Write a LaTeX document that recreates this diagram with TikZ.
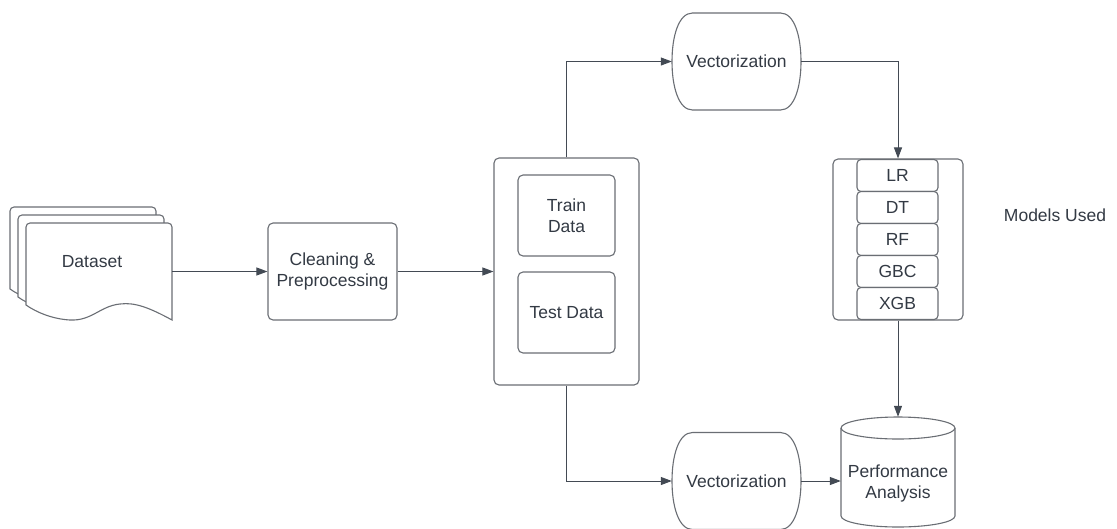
\documentclass[tikz,border=0pt]{standalone}
\usepackage{fontspec}
\setmainfont{Liberation Sans}
\usetikzlibrary{arrows.meta,calc}
\definecolor{lncol}{HTML}{434A54}
\definecolor{shpcol}{HTML}{6A6E74}
\definecolor{txtcol}{HTML}{333A44}
\tikzset{
  shp/.style={draw=shpcol, line width=1.1pt, fill=white},
  box/.style={shp, rounded corners=5pt, inner sep=0pt, align=center, text=txtcol},
  cell/.style={shp, rounded corners=4pt, minimum width=81pt, minimum height=32pt, inner sep=0pt, text=txtcol},
  lbl/.style={text=txtcol, align=center, inner sep=0pt},
  ghost/.style={inner sep=0pt, align=center, text=txtcol},
  arr/.style={draw=lncol, line width=1pt, -{Triangle[length=11pt,width=8pt]}},
  every node/.append style={font=\fontsize{17.5}{21}\selectfont},
}
\newcommand\vecpath[2]{%
  \draw[shp] (#1-44,#2-48.5) -- (#1+44,#2-48.5)
    .. controls (#1+58,#2-48.5) and (#1+64.5,#2-25) .. (#1+64.5,#2)
    .. controls (#1+64.5,#2+25) and (#1+58,#2+48.5) .. (#1+44,#2+48.5)
    -- (#1-44,#2+48.5)
    .. controls (#1-58,#2+48.5) and (#1-64.5,#2+25) .. (#1-64.5,#2)
    .. controls (#1-64.5,#2-25) and (#1-58,#2-48.5) .. cycle;}
\begin{document}
\begin{tikzpicture}[x=1pt,y=-1pt]
\useasboundingbox[fill=white] (0,0) rectangle (1117,528);

% Dataset (stacked documents)
\foreach \o in {16,8,0}{
  \draw[shp, shift={(-\o,-\o)}] (26,305) [rounded corners=4pt] -- (26,223) -- (172,223) [sharp corners] -- (172,320)
    .. controls (150,308) and (135,302) .. (120,304)
    .. controls (100,306) and (92,321) .. (70,320)
    .. controls (52,319) and (36,312) .. (26,305) -- cycle;
}
\node[ghost, minimum width=146pt, minimum height=97pt] (ds) at (99,271.5) {};
\node[lbl] (dst) at (92,262) {Dataset};

% Cleaning
\node[box, minimum width=129pt, minimum height=97pt] (cl) at (332.5,271.5) {Cleaning \&\\Preprocessing};

% Split
\node[box, minimum width=145pt, minimum height=227pt] (sp) at (566.5,271.5) {};
\node[box, minimum width=97pt, minimum height=81pt] (tr) at (566.5,215.5) {Train\\Data};
\node[box, minimum width=97pt, minimum height=81pt] (te) at (566.5,312.5) {Test Data};

% Vectorization shapes
\vecpath{736.5}{61.5}
\node[ghost, minimum width=129pt, minimum height=97pt] (v1) at (736.5,61.5) {Vectorization};
\vecpath{736.5}{481}
\node[ghost, minimum width=129pt, minimum height=97pt] (v2) at (736.5,481) {Vectorization};

% Models
\node[box, minimum width=130pt, minimum height=161pt] (mo) at (898,239.5) {};
\node[cell] (r1) at (897.5,175.5) {LR};
\node[cell] (r2) at (897.5,207.5) {DT};
\node[cell] (r3) at (897.5,239.5) {RF};
\node[cell] (r4) at (897.5,271.5) {GBC};
\node[cell] (r5) at (897.5,303.5) {XGB};
\node[lbl] (mu) at (1055,215) {Models Used};

% Performance cylinder
\draw[shp] (841,428) -- (841,516) arc[start angle=180, end angle=360, x radius=57pt, y radius=11pt]
  -- (955,428) arc[start angle=0, end angle=180, x radius=57pt, y radius=11pt];
\draw[shp, fill=none] (841,428) arc[start angle=180, end angle=360, x radius=57pt, y radius=11pt];
\node[ghost, minimum width=114pt, minimum height=110pt] (pa) at (898,472) {};
\node[lbl] (pat) at (898,483.5) {Performance\\Analysis};

% Connectors
\draw[arr] (ds.east) -- (cl.west);
\draw[arr] (cl.east) -- (sp.west);
\draw[arr] (sp.north) |- (v1.west);
\draw[arr] (v1.east) -| (mo.north);
\draw[arr] (mo.south) -- (pa.north);
\draw[arr] (sp.south) |- (v2.west);
\draw[arr] (v2.east) -- (v2.east -| pa.west);
\end{tikzpicture}
\end{document}
